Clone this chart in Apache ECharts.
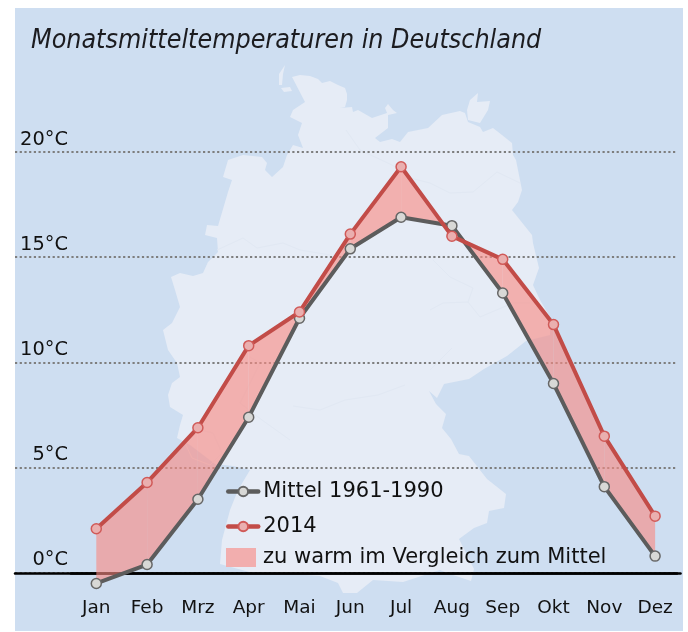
<!DOCTYPE html>
<html>
<head>
<meta charset="utf-8">
<title>Monatsmitteltemperaturen in Deutschland</title>
<script src="https://cdn.jsdelivr.net/npm/echarts@6/dist/echarts.min.js"></script>
<style>
  html, body { margin: 0; padding: 0; background: #fff; }
  #chart { width: 688px; height: 632px; }
</style>
</head>
<body>
<div id="chart"></div>
<script>
const months = ["Jan", "Feb", "Mrz", "Apr", "Mai", "Jun", "Jul", "Aug", "Sep", "Okt", "Nov", "Dez"]
const mittel = [-0.5, 0.4, 3.5, 7.4, 12.1, 15.4, 16.9, 16.5, 13.3, 9.0, 4.1, 0.8]
const werte2014 = [2.1, 4.3, 6.9, 10.8, 12.4, 16.1, 19.3, 16.0, 14.9, 11.8, 6.5, 2.7]
const yTicks = [0, 5, 10, 15, 20]

const nameMittel = "Mittel 1961-1990"
const name2014 = "2014"
const nameWarm = "zu warm im Vergleich zum Mittel"

// background silhouette (not data)
const mapOutline = [
  [292,77],[300,75],[310,76],[318,79],[322,83],[330,81],[338,85],[345,88],[347,94],[347,100],[345,107],[340,108],
  [352,107],[353,112],[358,110],[372,118],[387,113],[385,108],[388,104],[393,110],[397,113],[388,115],[388,128],
  [375,138],[380,142],[392,139],[400,142],[408,132],[428,128],[442,115],[460,111],[465,113],[468,122],[480,127],
  [483,132],[493,128],[502,135],[512,143],[513,155],[516,160],[522,190],[518,202],[512,210],[520,220],[532,235],
  [533,243],[539,268],[533,285],[540,300],[550,317],[550,335],[526,341],[507,356],[484,369],[469,379],[444,384],
  [437,398],[429,391],[436,404],[446,414],[442,428],[451,439],[459,454],[469,456],[487,479],[506,494],[504,508],
  [489,511],[487,523],[474,528],[459,539],[474,569],[471,581],[447,573],[440,570],[403,582],[373,580],[357,593],
  [343,593],[338,583],[320,576],[277,573],[253,573],[220,564],[222,540],[230,510],[238,490],[250,470],[233,466],
  [215,464],[190,445],[177,438],[180,425],[183,415],[170,407],[168,395],[172,383],[180,377],[177,363],[168,350],
  [163,330],[172,323],[180,307],[175,290],[171,277],[180,273],[193,276],[203,273],[208,262],[218,252],[217,238],
  [205,235],[207,225],[218,226],[228,192],[232,180],[223,177],[228,160],[243,155],[262,157],[267,163],[265,170],
  [272,177],[283,167],[287,155],[293,145],[303,148],[298,135],[302,123],[290,117],[293,110],[305,102]
]
const mapRuegen = [[467,110],[470,100],[478,93],[477,102],[490,101],[488,110],[480,123],[468,120]]
const mapSylt = [[279,85],[279,74],[285,65],[283,74],[282,85]]
const mapFoehr = [[281,88],[290,87],[292,91],[284,92]]
// faint inner borders of the states
const mapBorders = [
  [[430,183],[450,193],[473,192],[497,172],[520,183]],
  [[433,260],[450,277],[473,288],[468,302],[480,317],[513,303],[530,303]],
  [[430,310],[443,303],[468,302]],
  [[452,348],[430,370]],
  [[185,443],[192,458],[210,465],[222,453],[213,433],[200,430],[185,443]],
  [[217,250],[243,238],[257,248],[283,243],[300,250],[330,255]],
  [[250,357],[260,363],[250,383],[240,403],[262,420],[290,440]],
  [[293,406],[320,410],[345,400],[378,395],[405,385]],
  [[346,130],[360,150],[392,165],[410,178],[430,183]]
]

const myChart = echarts.init(document.getElementById("chart"))

function renderWarm(params, api) {
  const i = api.value(0)
  const a0 = api.value(1), a1 = api.value(2) // 2014
  const b0 = api.value(3), b1 = api.value(4) // Mittel
  let points = []
  const d0 = a0 - b0, d1 = a1 - b1
  if (d0 >= 0 && d1 >= 0) {
    points = [[i, a0], [i + 1, a1], [i + 1, b1], [i, b0]]
  } else {
    // lines cross inside this segment, only the warm part gets filled
    const t = d0 / (d0 - d1)
    const cross = [i + t, a0 + (a1 - a0) * t]
    points = d0 > 0 ? [[i, a0], cross, [i, b0]] : [cross, [i + 1, a1], [i + 1, b1]]
  }
  return {
    type: "polygon",
    shape: { points: points.map((p) => {
      // category coord only takes whole indexes, so go between neighbours
      const left = api.coord([Math.floor(p[0]), p[1]])
      const right = api.coord([Math.min(Math.floor(p[0]) + 1, months.length - 1), p[1]])
      const f = p[0] - Math.floor(p[0])
      return [left[0] + (right[0] - left[0]) * f, left[1]]
    }) },
    style: { fill: "rgba(249,138,131,0.62)" }
  }
}

const warmData = months.slice(0, -1).map((m, i) => [i, werte2014[i], werte2014[i + 1], mittel[i], mittel[i + 1]])

const mapElements = [mapOutline, mapRuegen, mapSylt, mapFoehr].map((points) => ({
  type: "polygon",
  z: -19,
  silent: true,
  shape: { points: points },
  style: { fill: "#e6ecf6" }
}))
const borderElements = mapBorders.map((points) => ({
  type: "polyline",
  z: -18,
  silent: true,
  shape: { points: points },
  style: { fill: null, stroke: "#e1e8f3", lineWidth: 1 }
}))

const option = {
  animation: false,
  backgroundColor: "#fff",
  textStyle: { fontFamily: "DejaVu Sans" },
  title: {
    text: "Monatsmitteltemperaturen in Deutschland",
    left: 31,
    top: 28,
    padding: 0,
    textStyle: { fontFamily: "DejaVu Sans Condensed", fontStyle: "italic", fontWeight: "normal", fontSize: 26.6, color: "#1c1c20" }
  },
  graphic: [
    { type: "rect", z: -20, silent: true, shape: { x: 15, y: 8, width: 668, height: 623 }, style: { fill: "#cedef1" } },
    ...mapElements,
    ...borderElements
  ],
  legend: [
    {
      orient: "vertical",
      left: 226,
      top: 481,
      padding: 0,
      itemGap: 14,
      itemWidth: 30,
      itemHeight: 12,
      lineStyle: { width: 4.5, cap: "round" },
      textStyle: { fontSize: 21, color: "#111", padding: [0, 0, 0, 0] },
      data: [{ name: nameMittel }, { name: name2014 }]
    },
    {
      orient: "vertical",
      left: 226,
      top: 547,
      padding: 0,
      itemWidth: 30,
      itemHeight: 19,
      textStyle: { fontSize: 21, color: "#111", padding: [0, 0, 0, 2] },
      data: [{ name: nameWarm, icon: "rect", itemStyle: { color: "#f2aeae" } }]
    }
  ],
  grid: [
    { left: 70.9, width: 609.6, top: 67.8, height: 610.4, outerBoundsMode: "none" },
    { left: 15, width: 662, top: 67.8, height: 610.4, outerBoundsMode: "none" }
  ],
  xAxis: [
    {
      type: "category",
      gridIndex: 0,
      data: months,
      offset: -105.2,
      axisLine: { onZero: false, lineStyle: { color: "#000", width: 2.5 } },
      axisTick: { show: false },
      axisLabel: { interval: 0, fontSize: 18.5, color: "#111", margin: 26 },
      splitLine: { show: false }
    },
    {
      type: "value",
      gridIndex: 1,
      min: 0,
      max: 1,
      offset: -105.2,
      axisLine: { onZero: false, lineStyle: { color: "#000", width: 2.5 } },
      axisTick: { show: false },
      axisLabel: { show: false },
      splitLine: { show: false }
    }
  ],
  yAxis: [
    { type: "value", gridIndex: 0, min: -5, max: 24, interval: 5, show: false },
    {
      type: "value",
      gridIndex: 1,
      min: -5,
      max: 24,
      interval: 5,
      axisLine: { show: false },
      axisTick: { show: false },
      axisLabel: {
        inside: true,
        margin: 53,
        align: "right",
        verticalAlign: "bottom",
        padding: [0, 0, 3, 0],
        fontSize: 19.4,
        color: "#111",
        formatter: (v) => (yTicks.includes(v) ? v + "°C" : "")
      },
      splitLine: {
        show: true,
        showMinLine: false,
        showMaxLine: false,
        lineStyle: { color: "#7e7e7e", width: 2, type: [2.2, 2.5] }
      }
    }
  ],
  series: [
    {
      name: nameWarm,
      type: "custom",
      xAxisIndex: 0,
      yAxisIndex: 0,
      z: 1,
      clip: false,
      renderItem: renderWarm,
      itemStyle: { color: "#f2aeae" },
      encode: { x: 0, y: 1 },
      data: warmData
    },
    {
      name: nameMittel,
      type: "line",
      xAxisIndex: 0,
      yAxisIndex: 0,
      z: 3,
      data: mittel,
      symbol: "circle",
      symbolSize: 10,
      showAllSymbol: true,
      lineStyle: { color: "#5c5c5c", width: 4 },
      itemStyle: { color: "#d8d8d6", borderColor: "#666", borderWidth: 1.5 }
    },
    {
      name: name2014,
      type: "line",
      xAxisIndex: 0,
      yAxisIndex: 0,
      z: 4,
      data: werte2014,
      symbol: "circle",
      symbolSize: 10,
      showAllSymbol: true,
      lineStyle: { color: "#c24c48", width: 4 },
      itemStyle: { color: "#eaafaf", borderColor: "#d05a58", borderWidth: 1.5 }
    }
  ]
}
myChart.setOption(option)

window.addEventListener("resize", () => {
  myChart.resize()
})
</script>
</body>
</html>
